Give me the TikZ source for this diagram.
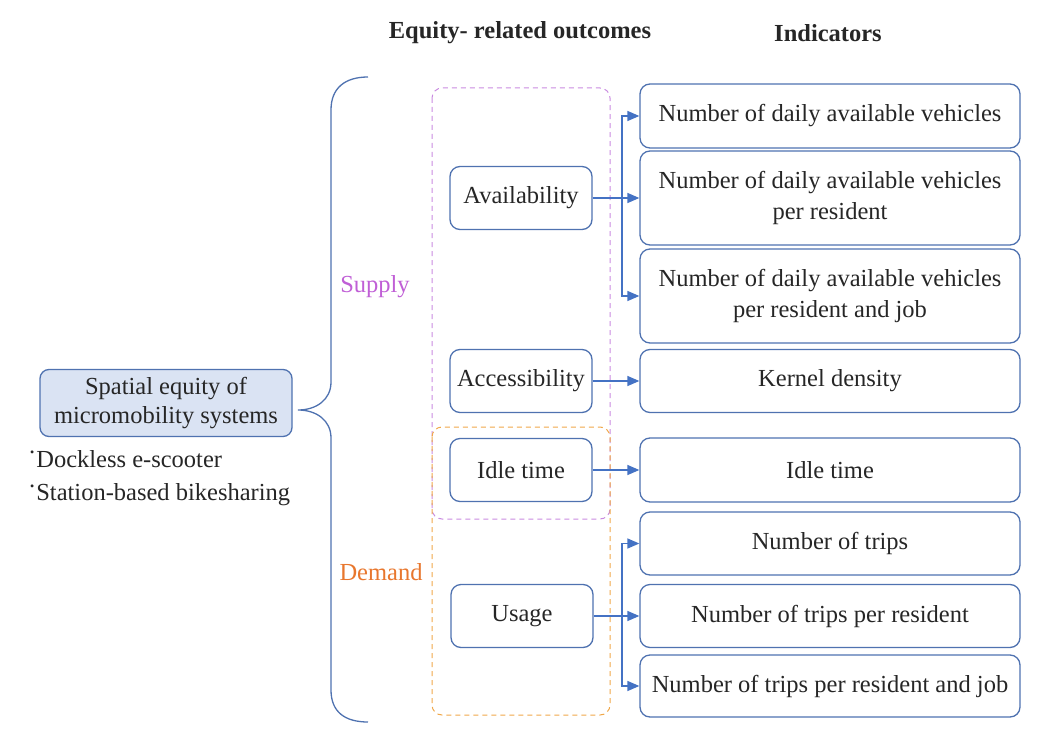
\documentclass[tikz,border=0pt]{standalone}
\usepackage{fontspec}
\setmainfont{Liberation Serif}
\usetikzlibrary{arrows.meta,calc}
\definecolor{boxblue}{HTML}{4F72B0}
\definecolor{arrblue}{HTML}{4472C4}
\definecolor{mainfill}{HTML}{DAE3F3}
\definecolor{supplyc}{HTML}{C05FD6}
\definecolor{demandc}{HTML}{E8772E}
\definecolor{purpdash}{HTML}{C98BE0}
\definecolor{orangedash}{HTML}{F0A84A}
\begin{document}
\begin{tikzpicture}[x=1pt,y=-1pt,
  every node/.style={font=\fontsize{24.5}{29}\selectfont, text=black!85},
  ibox/.style={draw=boxblue, line width=1.3pt, rounded corners=10pt, align=center, minimum width=380pt, inner sep=2pt},
  obox/.style={draw=boxblue, line width=1.3pt, rounded corners=10pt, align=center, minimum width=142pt, minimum height=63pt, inner sep=2pt},
  arr/.style={draw=arrblue, line width=1.4pt, -{Triangle[length=12pt,width=10pt]}},
  head/.style={font=\fontsize{24.5}{29}\selectfont\bfseries},
  dashbox/.style={line width=1pt, rounded corners=10pt, dash pattern=on 5pt off 4pt}
]
\useasboundingbox (0,0) rectangle (1038,738);

% headers
\node[head] (h1) at (520,33) {Equity- related outcomes};
\node[head] (h2) at (828,33) {Indicators};

% main node
\node[draw=boxblue, fill=mainfill, line width=1.3pt, rounded corners=9pt, align=center,
  minimum width=252pt, minimum height=67pt, inner sep=2pt] (main) at (166,403)
  {Spatial equity of\\[0pt]micromobility systems};
\node[anchor=west, inner sep=0pt] (bul1) at (28,459) {\raisebox{0.6ex}{·}Dockless e-scooter};
\node[anchor=west, inner sep=0pt] (bul2) at (28,495) {\raisebox{0.6ex}{·}Station-based bikesharing};

% brace
\draw[boxblue, line width=1.3pt] (368,77) .. controls (345,77) and (331,88) .. (331,110)
  -- (331,382) .. controls (331,400) and (316,410) .. (298,410)
  .. controls (316,410) and (331,420) .. (331,438)
  -- (331,690) .. controls (331,712) and (345,722) .. (368,722);

\node[text=supplyc] (supply) at (375,287) {Supply};
\node[text=demandc] (demand) at (381,572) {Demand};

% dashed groups
\draw[dashbox, draw=purpdash] (432,88) rectangle (610,519);
\draw[dashbox, draw=orangedash] (432,427) rectangle (610,715);

% outcome nodes
\node[obox] (avail) at (521,198) {Availability};
\node[obox] (access) at (521,381) {Accessibility};
\node[obox] (idle) at (521,470) {Idle time};
\node[obox] (usage) at (522,616) {Usage};

% indicator nodes
\node[ibox, minimum height=64pt] (b1) at (830,116) {Number of daily available vehicles};
\node[ibox, minimum height=94pt] (b2) at (830,198) {Number of daily available vehicles\\[2pt]per resident};
\node[ibox, minimum height=94pt] (b3) at (830,296) {Number of daily available vehicles\\[2pt]per resident and job};
\node[ibox, minimum height=63pt] (b4) at (830,381) {Kernel density};
\node[ibox, minimum height=64pt] (b5) at (830,470) {Idle time};
\node[ibox, minimum height=63pt] (b6) at (830,543.5) {Number of trips};
\node[ibox, minimum height=63pt] (b7) at (830,616) {Number of trips per resident};
\node[ibox, minimum height=62pt] (b8) at (830,686) {Number of trips per resident and job};

% connectors
\coordinate (ja) at (622,198);
\draw[arr] (avail.east) -- (b2.west);
\draw[arr] (ja) |- (b1.west);
\draw[arr] (ja) |- (b3.west);
\draw[arr] (access.east) -- (b4.west);
\draw[arr] (idle.east) -- (b5.west);
\coordinate (ju) at (622,616);
\draw[arr] (usage.east) -- (b7.west);
\draw[arr] (ju) |- (b6.west);
\draw[arr] (ju) |- (b8.west);
\end{tikzpicture}
\end{document}
